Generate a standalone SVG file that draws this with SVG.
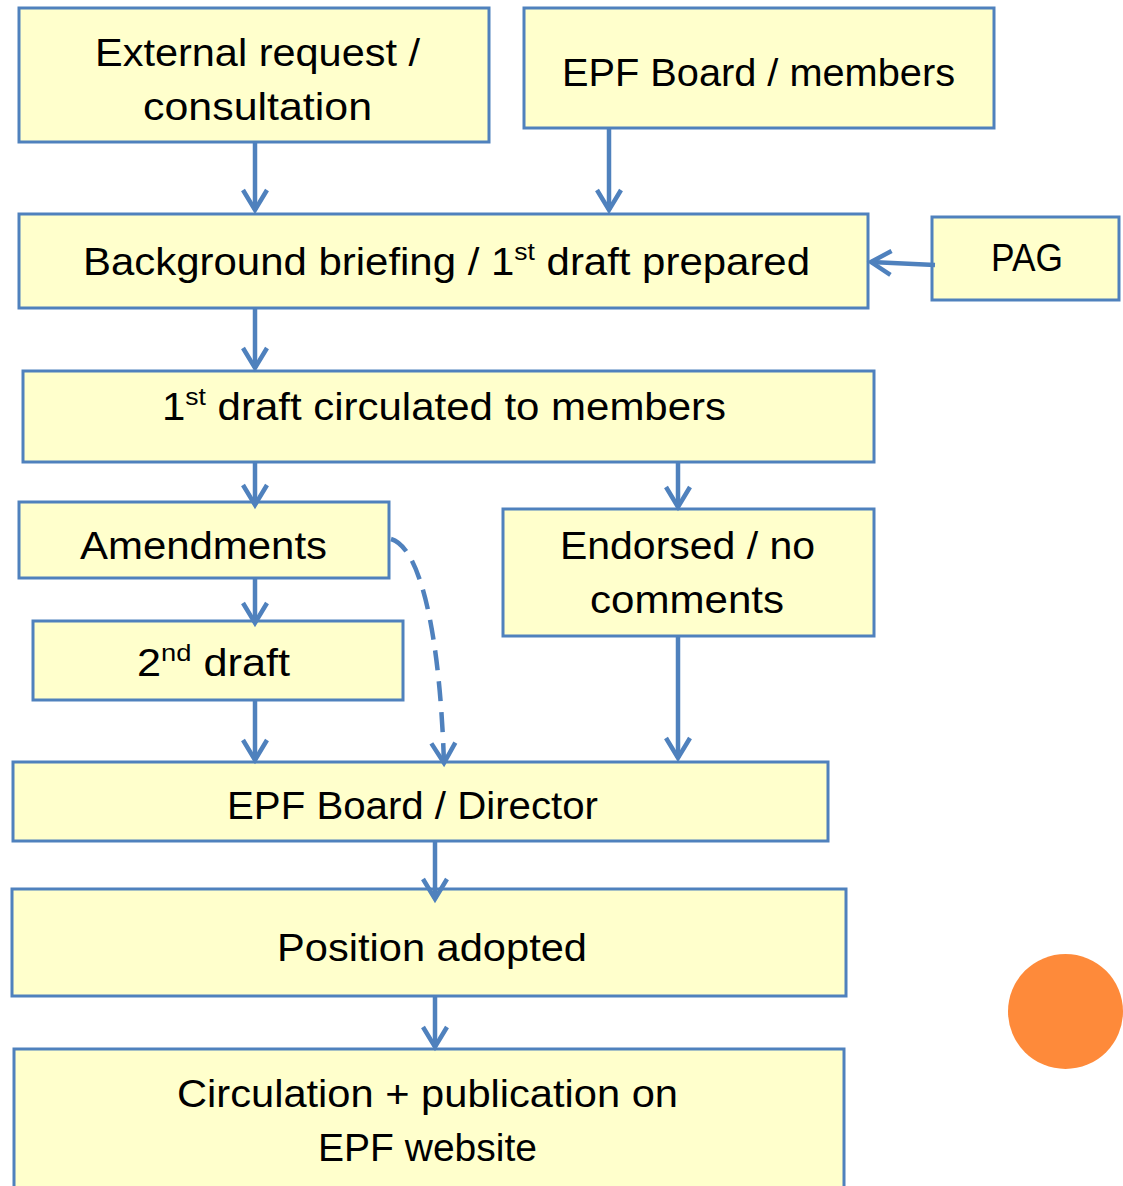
<svg xmlns="http://www.w3.org/2000/svg" width="1123" height="1186" viewBox="0 0 1123 1186">
<style>
.box{fill:#FFFFCC;stroke:#4F81BD;stroke-width:3}
.t{font-family:"Liberation Sans","Open Sans",sans-serif;font-size:38px;fill:#000}
.sup{font-size:24px}
.c{fill:none;stroke:#4F81BD;stroke-width:4.5;marker-end:url(#ah)}
.d{stroke-dasharray:20 11}
</style>
<defs>
<marker id="ah" markerUnits="userSpaceOnUse" orient="auto" refX="0" refY="0" markerWidth="40" markerHeight="40" viewBox="-30 -20 40 40" overflow="visible">
<path d="M-20,-12 L0,0 L-20,12" fill="none" stroke="#4F81BD" stroke-width="4.5" stroke-linejoin="miter"/>
</marker>
</defs>
<rect width="1123" height="1186" fill="#fff"/>
<g id="n1"><rect class="box" x="19" y="8" width="470" height="134"/>
<text class="t" x="95" y="66" textLength="325" lengthAdjust="spacingAndGlyphs">External request /</text>
<text class="t" x="143" y="120" textLength="229" lengthAdjust="spacingAndGlyphs">consultation</text></g>
<g id="n2"><rect class="box" x="524" y="8" width="470" height="120"/>
<text class="t" x="562" y="86" textLength="393" lengthAdjust="spacingAndGlyphs">EPF Board / members</text></g>
<g id="n3"><rect class="box" x="19" y="214" width="849" height="94"/>
<text class="t" x="83" y="275" textLength="727" lengthAdjust="spacingAndGlyphs">Background briefing / 1<tspan class="sup" dy="-15">st</tspan><tspan dy="15"> draft prepared</tspan></text></g>
<g id="n4"><rect class="box" x="932" y="217" width="187" height="83"/>
<text class="t" x="991" y="271" textLength="72" lengthAdjust="spacingAndGlyphs">PAG</text></g>
<g id="n5"><rect class="box" x="23" y="371" width="851" height="91"/>
<text class="t" x="162" y="420" textLength="564" lengthAdjust="spacingAndGlyphs">1<tspan class="sup" dy="-15">st</tspan><tspan dy="15"> draft circulated to members</tspan></text></g>
<g id="n6"><rect class="box" x="19" y="502" width="370" height="76"/>
<text class="t" x="80" y="559" textLength="247" lengthAdjust="spacingAndGlyphs">Amendments</text></g>
<g id="n7"><rect class="box" x="503" y="509" width="371" height="127"/>
<text class="t" x="560" y="559" textLength="255" lengthAdjust="spacingAndGlyphs">Endorsed / no</text>
<text class="t" x="590" y="613" textLength="194" lengthAdjust="spacingAndGlyphs">comments</text></g>
<g id="n8"><rect class="box" x="33" y="621" width="370" height="79"/>
<text class="t" x="137" y="676" textLength="153" lengthAdjust="spacingAndGlyphs">2<tspan class="sup" dy="-15">nd</tspan><tspan dy="15"> draft</tspan></text></g>
<g id="n9"><rect class="box" x="13" y="762" width="815" height="79"/>
<text class="t" x="227" y="819" textLength="371" lengthAdjust="spacingAndGlyphs">EPF Board / Director</text></g>
<g id="n10"><rect class="box" x="12" y="889" width="834" height="107"/>
<text class="t" x="277" y="961" textLength="310" lengthAdjust="spacingAndGlyphs">Position adopted</text></g>
<g id="n11"><rect class="box" x="14" y="1049" width="830" height="150"/>
<text class="t" x="177" y="1107" textLength="501" lengthAdjust="spacingAndGlyphs">Circulation + publication on</text>
<text class="t" x="318" y="1161" textLength="219" lengthAdjust="spacingAndGlyphs">EPF website</text></g>
<g id="connectors">
<path class="c" d="M255,143 V210"/>
<path class="c" d="M609,129 V210"/>
<path class="c" d="M935,265 L871,262"/>
<path class="c" d="M255,309 V368"/>
<path class="c" d="M255,463 V505"/>
<path class="c" d="M678,463 V507"/>
<path class="c" d="M255,579 V623"/>
<path class="c" d="M255,701 V760"/>
<path class="c" d="M678,637 V758"/>
<path class="c d" d="M391,539 C422,548 440,640 444,763"/>
<path class="c" d="M435,842 V899"/>
<path class="c" d="M435,997 V1047"/>
</g>
<circle cx="1065.5" cy="1011.5" r="57.5" fill="#FE8A3A"/>
</svg>
